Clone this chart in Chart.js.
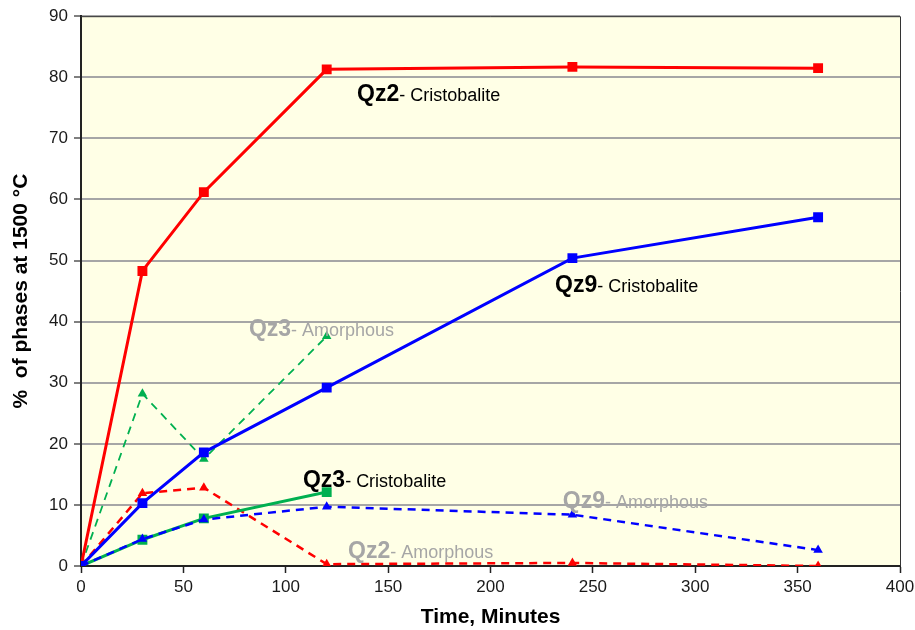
<!DOCTYPE html>
<html>
<head>
<meta charset="utf-8">
<script src="https://cdn.jsdelivr.net/npm/chart.js@4.4.1/dist/chart.umd.min.js"></script>
<style>
  html, body { margin: 0; padding: 0; background: #ffffff; }
  #wrap { width: 915px; height: 630px; }
</style>
</head>
<body>
<div id="wrap"><canvas id="phases"></canvas></div>
<script>
// heating time in minutes
const timesLong = [0, 30, 60, 120, 240, 360];
const timesShort = [0, 30, 60, 120];

// % of each phase at 1500 °C
const qz2Cristobalite = [0, 48.3, 61.2, 81.3, 81.7, 81.5];
const qz9Cristobalite = [0, 10.3, 18.6, 29.2, 50.4, 57.1];
const qz3Cristobalite = [0, 4.3, 7.8, 12.1];
const qz3Amorphous = [0, 28.2, 17.5, 37.6];
const qz2Amorphous = [0, 11.9, 12.8, 0.3, 0.5, 0];
const qz9Amorphous = [0, 4.4, 7.6, 9.7, 8.4, 2.6];

const xTicks = [0, 50, 100, 150, 200, 250, 300, 350, 400];
const yTicks = [0, 10, 20, 30, 40, 50, 60, 70, 80, 90];

// in-plot labels: [sample, phase, x (min), y (%), colour]
const seriesLabels = [
    ['Qz2', '- Cristobalite', 134.8, 76.1, '#000000'],
    ['Qz9', '- Cristobalite', 231.5, 44.8, '#000000'],
    ['Qz3', '- Cristobalite', 108.4, 12.9, '#000000'],
    ['Qz3', '- Amorphous', 82.0, 37.7, '#a6a6a6'],
    ['Qz9', '- Amorphous', 235.3, 9.5, '#a6a6a6'],
    ['Qz2', '- Amorphous', 130.4, 1.3, '#a6a6a6']
];

const RED = '#ff0000';
const BLUE = '#0000ff';
const GREEN = '#00b050';
const FONT = '"Liberation Sans", Arial, sans-serif';

function points(xs, ys) {
    return xs.map((x, i) => ({ x: x, y: ys[i] }));
}

function solidSeries(label, xs, ys, color) {
    return {
        label: label,
        data: points(xs, ys),
        borderColor: color,
        backgroundColor: color,
        borderWidth: 3,
        pointStyle: 'rect',
        pointRadius: 7,
        pointBorderWidth: 0,
        tension: 0
    };
}

function dashedSeries(label, xs, ys, color, width) {
    return {
        label: label,
        data: points(xs, ys),
        borderColor: color,
        backgroundColor: color,
        borderWidth: width,
        borderDash: [8, 6],
        pointStyle: 'triangle',
        pointRadius: 5.5,
        pointBorderWidth: 0,
        tension: 0
    };
}

const plotBackground = {
    id: 'plotBackground',
    beforeDraw(chart) {
        const { ctx, chartArea: a } = chart;
        ctx.save();
        ctx.fillStyle = '#ffffe6';
        ctx.fillRect(a.left, a.top, a.right - a.left, a.bottom - a.top);
        ctx.restore();
    },
    beforeDatasetsDraw(chart) {
        // thin frame on the top and right edges
        const { ctx, chartArea: a } = chart;
        ctx.save();
        ctx.strokeStyle = '#333333';
        ctx.lineWidth = 1;
        ctx.beginPath();
        ctx.moveTo(a.left, a.top + 0.5);
        ctx.lineTo(a.right + 0.5, a.top + 0.5);
        ctx.lineTo(a.right + 0.5, a.bottom);
        ctx.stroke();
        ctx.restore();
    }
};

const seriesText = {
    id: 'seriesText',
    afterDatasetsDraw(chart) {
        const { ctx, scales } = chart;
        ctx.save();
        ctx.textBaseline = 'alphabetic';
        ctx.textAlign = 'left';
        seriesLabels.forEach(([name, phase, xv, yv, color]) => {
            const x = scales.x.getPixelForValue(xv);
            const y = scales.y.getPixelForValue(yv);
            ctx.fillStyle = color;
            ctx.font = 'bold 23px ' + FONT;
            ctx.fillText(name, x, y);
            const w = ctx.measureText(name).width;
            ctx.font = '18px ' + FONT;
            ctx.fillText(phase, x + w, y);
        });
        ctx.restore();
    }
};

new Chart(document.getElementById('phases').getContext('2d'), {
    type: 'line',
    data: {
        datasets: [
            solidSeries('Qz9- Cristobalite', timesLong, qz9Cristobalite, BLUE),
            solidSeries('Qz2- Cristobalite', timesLong, qz2Cristobalite, RED),
            dashedSeries('Qz9- Amorphous', timesLong, qz9Amorphous, BLUE, 2.5),
            solidSeries('Qz3- Cristobalite', timesShort, qz3Cristobalite, GREEN),
            dashedSeries('Qz2- Amorphous', timesLong, qz2Amorphous, RED, 2.5),
            dashedSeries('Qz3- Amorphous', timesShort, qz3Amorphous, GREEN, 1.8)
        ]
    },
    options: {
        responsive: true,
        maintainAspectRatio: false,
        animation: false,
        layout: { padding: { top: 14, right: 15, bottom: 0, left: 0 } },
        plugins: {
            legend: { display: false },
            tooltip: { enabled: false }
        },
        scales: {
            x: {
                type: 'linear',
                min: 0,
                max: 400,
                afterFit(scale) {
                    scale.height = 64;
                    scale.paddingLeft = 0;
                    scale.paddingRight = 0;
                },
                afterBuildTicks(scale) { scale.ticks = xTicks.map(v => ({ value: v })); },
                grid: {
                    drawOnChartArea: false,
                    drawTicks: true,
                    tickLength: 7,
                    tickColor: '#222222',
                    tickWidth: 1.5
                },
                border: { color: '#222222', width: 2 },
                ticks: {
                    color: '#1a1a1a',
                    padding: 4,
                    maxRotation: 0,
                    font: { family: FONT, size: 17 }
                },
                title: {
                    display: true,
                    text: 'Time, Minutes',
                    color: '#000000',
                    padding: { top: 0, bottom: 0 },
                    font: { family: FONT, size: 21, weight: 'bold' }
                }
            },
            y: {
                type: 'linear',
                min: 0,
                max: 90,
                afterFit(scale) { scale.width = 81; },
                afterBuildTicks(scale) { scale.ticks = yTicks.map(v => ({ value: v })); },
                grid: {
                    color: ctx => (ctx.tick && ctx.tick.value === 0) ? 'rgba(0,0,0,0)' : '#a6a6a6',
                    lineWidth: 2,
                    tickLength: 7,
                    tickColor: '#555555',
                    tickWidth: 1.5
                },
                border: { color: '#222222', width: 2 },
                ticks: {
                    color: '#1a1a1a',
                    padding: 6,
                    font: { family: FONT, size: 17 }
                },
                title: {
                    display: true,
                    text: '%  of phases at 1500 °C',
                    color: '#000000',
                    padding: { top: 9, bottom: 0 },
                    font: { family: FONT, size: 21, weight: 'bold' }
                }
            }
        }
    },
    plugins: [plotBackground, seriesText]
});
</script>
</body>
</html>
